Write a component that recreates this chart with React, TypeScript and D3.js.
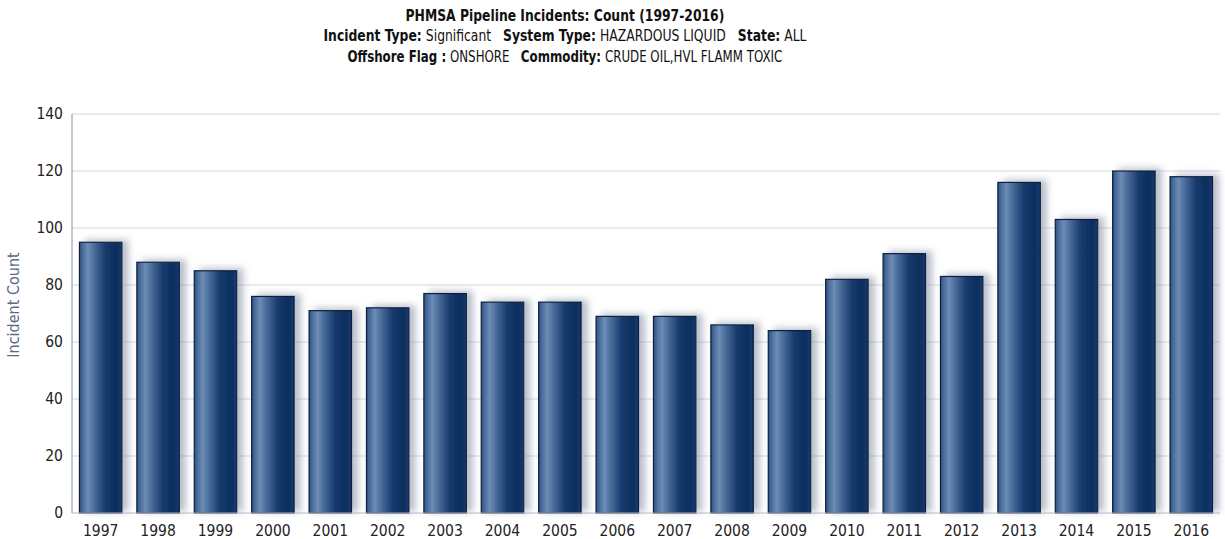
import React, { useLayoutEffect, useRef, useState } from "react";
import * as d3 from "d3";

const years = ["1997","1998","1999","2000","2001","2002","2003","2004","2005","2006","2007","2008","2009","2010","2011","2012","2013","2014","2015","2016"];
const incidents = [95, 88, 85, 76, 71, 72, 77, 74, 74, 69, 69, 66, 64, 82, 91, 83, 116, 103, 120, 118];
const yTicks = [0, 20, 40, 60, 80, 100, 120, 140];

type Seg = { t: string; b: boolean };
const titleLines: { segs: Seg[]; y: number; width: number }[] = [
  { segs: [{ t: "PHMSA Pipeline Incidents: Count (1997-2016)", b: true }], y: 21, width: 319 },
  {
    segs: [
      { t: "Incident Type:", b: true }, { t: " Significant   ", b: false },
      { t: "System Type:", b: true }, { t: " HAZARDOUS LIQUID   ", b: false },
      { t: "State:", b: true }, { t: " ALL", b: false },
    ],
    y: 41,
    width: 483,
  },
  {
    segs: [
      { t: "Offshore Flag :", b: true }, { t: " ONSHORE   ", b: false },
      { t: "Commodity:", b: true }, { t: " CRUDE OIL,HVL FLAMM TOXIC", b: false },
    ],
    y: 62,
    width: 435,
  },
];

const W = 1225;
const H = 539;
const M = { left: 72, right: 5, top: 114, bottom: 26 };
const TITLE_CX = 565;

const FONT = "'DejaVu Sans Condensed', 'DejaVu Sans', Tahoma, sans-serif";

function TitleLine({ segs, y, width }: { segs: Seg[]; y: number; width: number }) {
  const refs = useRef<(SVGTextElement | null)[]>([]);
  const [layout, setLayout] = useState<{ xs: number[]; sx: number; total: number } | null>(null);

  useLayoutEffect(() => {
    const widths = refs.current.map((el) => (el ? el.getComputedTextLength() : 0));
    const xs: number[] = [];
    let acc = 0;
    widths.forEach((w) => {
      xs.push(acc);
      acc += w;
    });
    setLayout({ xs, sx: acc > 0 ? width / acc : 1, total: acc });
  }, [segs, width]);

  const sx = layout ? layout.sx : 1;
  const total = layout ? layout.total : 0;
  return (
    <g transform={`translate(${TITLE_CX - (total * sx) / 2}, ${y}) scale(${sx}, 1)`} opacity={layout ? 1 : 0}>
      {segs.map((s, i) => (
        <text
          key={i}
          ref={(el) => { refs.current[i] = el; }}
          x={layout ? layout.xs[i] : 0}
          fontWeight={s.b ? "bold" : "normal"}
          style={{ whiteSpace: "pre" }}
        >
          {s.t}
        </text>
      ))}
    </g>
  );
}

export default function App() {
  const x = d3.scaleBand<string>().domain(years).range([M.left, W - M.right]).paddingInner(0.26).paddingOuter(0.13);
  const y = d3.scaleLinear().domain([0, 140]).range([H - M.bottom, M.top]);

  return (
    <svg width={W} height={H} style={{ position: "absolute", left: 0, top: 0, background: "#fff" }}>
      <defs>
        <linearGradient id="barGrad" x1="0" x2="1" y1="0" y2="0">
          <stop offset="0" stopColor="#2f5283" />
          <stop offset="0.08" stopColor="#4a6d9b" />
          <stop offset="0.2" stopColor="#6d8cb5" />
          <stop offset="0.34" stopColor="#4b6d9b" />
          <stop offset="0.62" stopColor="#15396c" />
          <stop offset="0.86" stopColor="#0d2e5f" />
          <stop offset="1" stopColor="#163a6b" />
        </linearGradient>
        <filter id="barShadow" x="-20%" y="-10%" width="160%" height="120%">
          <feDropShadow dx="6" dy="-2" stdDeviation="3.5" floodColor="#7d889c" floodOpacity="0.55" />
        </filter>
      </defs>

      {/* title block */}
      <g fontFamily={FONT} fontSize={15} fill="#111">
        {titleLines.map((l, i) => (
          <TitleLine key={i} segs={l.segs} y={l.y} width={l.width} />
        ))}
      </g>

      {/* gridlines */}
      {yTicks.filter((t) => t > 0).map((t) => (
        <line key={t} x1={M.left} x2={W - M.right} y1={y(t)} y2={y(t)} stroke="#e2e4e8" strokeWidth={1.5} />
      ))}

      {/* bars */}
      <g filter="url(#barShadow)">
        {years.map((yr, i) => (
          <rect
            key={yr}
            x={x(yr)!}
            y={y(incidents[i])}
            width={x.bandwidth()}
            height={y(0) - y(incidents[i])}
            fill="url(#barGrad)"
            stroke="#0b1f3f"
            strokeWidth={1.2}
          />
        ))}
      </g>

      {/* axes */}
      <line x1={M.left} x2={M.left} y1={M.top} y2={y(0)} stroke="#9aa0ae" strokeWidth={1.2} />
      <line x1={M.left} x2={W - M.right} y1={y(0)} y2={y(0)} stroke="#b5bac4" strokeWidth={1.2} />

      <g fontFamily={FONT} fontSize={15.5} fill="#222">
        {yTicks.map((t) => (
          <text key={t} x={63} y={y(t) + 5} textAnchor="end">{t}</text>
        ))}
        {years.map((yr) => (
          <text key={yr} x={x(yr)! + x.bandwidth() / 2} y={536} textAnchor="middle">{yr}</text>
        ))}
      </g>

      <text
        transform={`translate(19, 305) rotate(-90)`}
        textAnchor="middle"
        fontFamily={FONT}
        fontSize={16}
        fill="#5b6a82"
      >
        Incident Count
      </text>
    </svg>
  );
}
